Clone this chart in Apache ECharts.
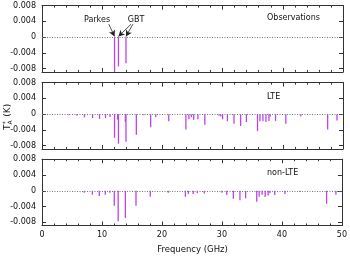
<!DOCTYPE html>
<html><head><meta charset="utf-8">
<script src="https://cdn.jsdelivr.net/npm/echarts@6/dist/echarts.min.js"></script>
<style>html,body{margin:0;padding:0;background:#fff}#c{width:350px;height:257px}</style>
</head><body><div id="c"></div>
<script>
var xTicks = [0, 10, 20, 30, 40, 50];
var yTicks = [-0.008, -0.004, 0, 0.004, 0.008];
var panelNames = ['Observations', 'LTE', 'non-LTE'];

var obsFreq = [12.05, 12.7, 13.95];
var obsVal  = [-0.0088, -0.0074, -0.0066];

var lteFreq = [4.5, 5.8, 7.05, 8.4, 9.55, 10.55, 11.3, 12.05, 12.55, 12.7, 13.85, 13.95, 15.67, 16.9, 18.05, 18.9, 21.05,
  23.9, 24.4, 24.8, 25.2, 25.9, 27.05, 29.4, 29.7, 30.0, 30.8, 31.9, 33.0, 33.95, 35.8, 36.2, 36.7, 37.2, 37.7, 37.9, 38.8, 40.5, 43.0, 47.45, 49.0];
var lteVal  = [-0.0003, -0.0004, -0.0008, -0.001, -0.0012, -0.001, -0.0007, -0.006, -0.0014, -0.0075, -0.002, -0.007, -0.0052, -0.0003, -0.0033, -0.0008, -0.0018,
  -0.0039, -0.0013, -0.0008, -0.0014, -0.0013, -0.0027, -0.0004, -0.0006, -0.0013, -0.0018, -0.0024, -0.003, -0.002, -0.0043, -0.0018, -0.0018, -0.002, -0.0017, -0.0006, -0.0017, -0.0024, -0.0006, -0.0039, -0.0016];

var nlteFreq = [7.05, 8.4, 9.55, 10.55, 11.3, 12.05, 12.7, 13.9, 15.67, 18.05, 21.05,
  23.9, 24.4, 25.2, 25.9, 27.05, 30.0, 30.8, 31.9, 33.0, 33.95, 35.8, 36.2, 36.7, 37.2, 37.7, 38.0, 38.8, 40.5, 43.0, 47.45, 49.0];
var nlteVal  = [-0.0005, -0.001, -0.0013, -0.001, -0.0005, -0.0038, -0.0077, -0.0069, -0.0038, -0.0015, -0.0005,
  -0.0015, -0.0008, -0.0008, -0.0006, -0.0007, -0.0005, -0.0011, -0.002, -0.0024, -0.0019, -0.0028, -0.0015, -0.001, -0.0016, -0.0012, -0.0006, -0.0011, -0.0008, -0.0003, -0.0033, -0.001];

var FONT = 'DejaVu Sans';
var AX = '#333';
var LINE = '#bb44ee';
var tops = [5.6, 82.6, 159.2];
var H = 66.3;

var grids = [], xAxes = [], yAxes = [], series = [];
var datasets = [[obsFreq, obsVal], [lteFreq, lteVal], [nlteFreq, nlteVal]];

for (var i = 0; i < 3; i++) {
  grids.push({left: 42, right: 7, top: tops[i], height: H});
  var last = (i === 2);
  xAxes.push({
    type: 'value', gridIndex: i, position: 'bottom', min: 0, max: 50, interval: 10,
    axisLine: {show: true, onZero: false, lineStyle: {color: AX, width: 1}},
    axisTick: {show: true, inside: true, length: 4, lineStyle: {color: AX}},
    minorTick: {show: true, splitNumber: 5, length: 2, lineStyle: {color: AX}},
    axisLabel: {show: last, margin: 5, color: '#111', fontFamily: FONT, fontSize: 8},
    splitLine: {show: false}
  });
  xAxes.push({
    type: 'value', gridIndex: i, position: 'top', min: 0, max: 50, interval: 10,
    axisLine: {show: true, onZero: false, lineStyle: {color: AX, width: 1}},
    axisTick: {show: true, inside: true, length: 4, lineStyle: {color: AX}},
    minorTick: {show: true, splitNumber: 5, length: 2, lineStyle: {color: AX}},
    axisLabel: {show: false}, splitLine: {show: false}
  });
  yAxes.push({
    type: 'value', gridIndex: i, position: 'left', min: -0.0088, max: 0.008,
    axisLine: {show: true, onZero: false, lineStyle: {color: AX, width: 1}},
    axisTick: {show: true, inside: true, length: 4, customValues: yTicks, lineStyle: {color: AX}},
    axisLabel: {show: true, margin: 6, color: '#111', fontFamily: FONT, fontSize: 8, customValues: yTicks,
      formatter: function (v) { return Math.abs(v) < 1e-9 ? '0' : v.toFixed(3); }},
    splitLine: {show: false}
  });
  yAxes.push({
    type: 'value', gridIndex: i, position: 'right', min: -0.0088, max: 0.008,
    axisLine: {show: true, onZero: false, lineStyle: {color: AX, width: 1}},
    axisTick: {show: true, inside: true, length: 4, customValues: yTicks, lineStyle: {color: AX}},
    axisLabel: {show: false}, splitLine: {show: false}
  });
  var d = datasets[i];
  var pts = d[0].map(function (f, k) { return [f, d[1][k]]; });
  var s = {
    type: 'bar', xAxisIndex: 2 * i, yAxisIndex: 2 * i, data: pts, barWidth: 1.3,
    itemStyle: {color: LINE}, silent: true, animation: false, clip: true,
    markLine: {silent: true, symbol: ['none', 'none'], label: {show: false},
      lineStyle: {type: [1, 1.5], color: '#777', width: 1}, data: [{yAxis: 0}]}
  };
  series.push(s);
}

// arrows for the Observations panel
series.push({
  type: 'line', xAxisIndex: 0, yAxisIndex: 0, data: [], silent: true,
  markLine: {
    silent: true, symbol: ['none', 'arrow'], symbolSize: [5, 6], label: {show: false},
    lineStyle: {type: 'solid', color: '#222', width: 0.8},
    data: [
      [{coord: [11.1, 0.0033]}, {coord: [obsFreq[0], 0.0002]}],
      [{coord: [14.8, 0.0033]}, {coord: [obsFreq[1], 0.0002]}],
      [{coord: [15.1, 0.0033]}, {coord: [obsFreq[2], 0.0002]}]
    ]
  }
});

var txt = function (x, y, t, align, size) {
  return {type: 'text', x: x, y: y, silent: true,
    style: {text: t, fill: '#111', font: (size || 8) + 'px "' + FONT + '"', textAlign: align || 'left', textVerticalAlign: 'middle'}};
};

var graphic = [
  txt(267, 18, panelNames[0]),
  txt(267, 96.5, panelNames[1]),
  txt(267, 173.3, panelNames[2]),
  txt(97, 19.5, 'Parkes', 'center'),
  txt(136, 19.5, 'GBT', 'center'),
  txt(192.5, 250, 'Frequency (GHz)', 'center', 8.5),
  {type: 'group', x: 8, y: 114, rotation: Math.PI / 2, silent: true, children: [
    {type: 'text', x: -16, y: 0, style: {text: 'T', fill: '#111', font: '9px "' + FONT + '"', textVerticalAlign: 'middle'}},
    {type: 'text', x: -10.4, y: 2.5, style: {text: 'A', fill: '#111', font: '6px "' + FONT + '"', textVerticalAlign: 'middle'}},
    {type: 'text', x: -10.2, y: -3, style: {text: '*', fill: '#111', font: '6px "' + FONT + '"', textVerticalAlign: 'middle'}},
    {type: 'text', x: -5.6, y: 0, style: {text: ' (K)', fill: '#111', font: '9px "' + FONT + '"', textVerticalAlign: 'middle'}}
  ]}
];

var chart = echarts.init(document.getElementById('c'), null, {renderer: 'canvas'});
chart.setOption({
  animation: false, backgroundColor: '#fff',
  grid: grids, xAxis: xAxes, yAxis: yAxes, series: series, graphic: graphic
});
</script></body></html>
